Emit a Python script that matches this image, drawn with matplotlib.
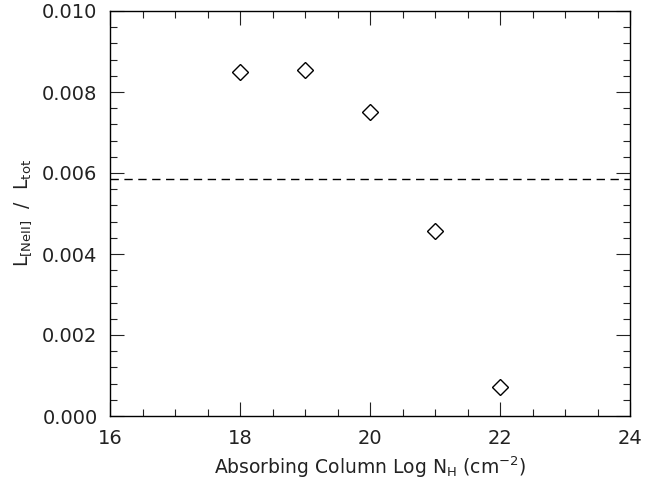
import numpy as np
import matplotlib
matplotlib.use("Agg")
import matplotlib.pyplot as plt
from matplotlib.ticker import MultipleLocator, FormatStrFormatter

# data
log_nh = [18, 19, 20, 21, 22]
ratio = [0.00849, 0.00854, 0.00751, 0.00457, 0.00072]
mean_ratio = 0.00585

plt.rcParams["font.family"] = "DejaVu Sans"
plt.rcParams["mathtext.default"] = "regular"

fig = plt.figure(figsize=(6.45, 4.79), dpi=100)
ax = fig.add_axes([110 / 645, 1 - 416 / 479, 520 / 645, 405 / 479])

ax.plot(log_nh, ratio, linestyle="none", marker="D", markersize=8.5,
        markerfacecolor="none", markeredgecolor="black", markeredgewidth=1.0)
ax.axhline(mean_ratio, color="black", linestyle=(0, (6, 4)), linewidth=1.0)

ax.set_xlim(16, 24)
ax.set_ylim(0, 0.010)
ax.xaxis.set_major_locator(MultipleLocator(2))
ax.xaxis.set_minor_locator(MultipleLocator(0.5))
ax.yaxis.set_major_locator(MultipleLocator(0.002))
ax.yaxis.set_minor_locator(MultipleLocator(0.0004))
ax.yaxis.set_major_formatter(FormatStrFormatter("%.3f"))

ax.tick_params(which="both", direction="in", top=True, right=True,
               labelsize=14, width=0.8, pad=9, colors="#222222")
ax.tick_params(which="major", length=10)
ax.tick_params(which="minor", length=5)
for s in ax.spines.values():
    s.set_linewidth(1.0)

ax.set_xlabel("Absorbing Column Log N$_H$ (cm$^{-2}$)", fontsize=13.5,
              labelpad=5, color="#222222")
ax.set_ylabel("L$_{[NeII]}$  /  L$_{tot}$", fontsize=13.5, labelpad=6,
              color="#222222")

fig.savefig("out.png", dpi=100)
